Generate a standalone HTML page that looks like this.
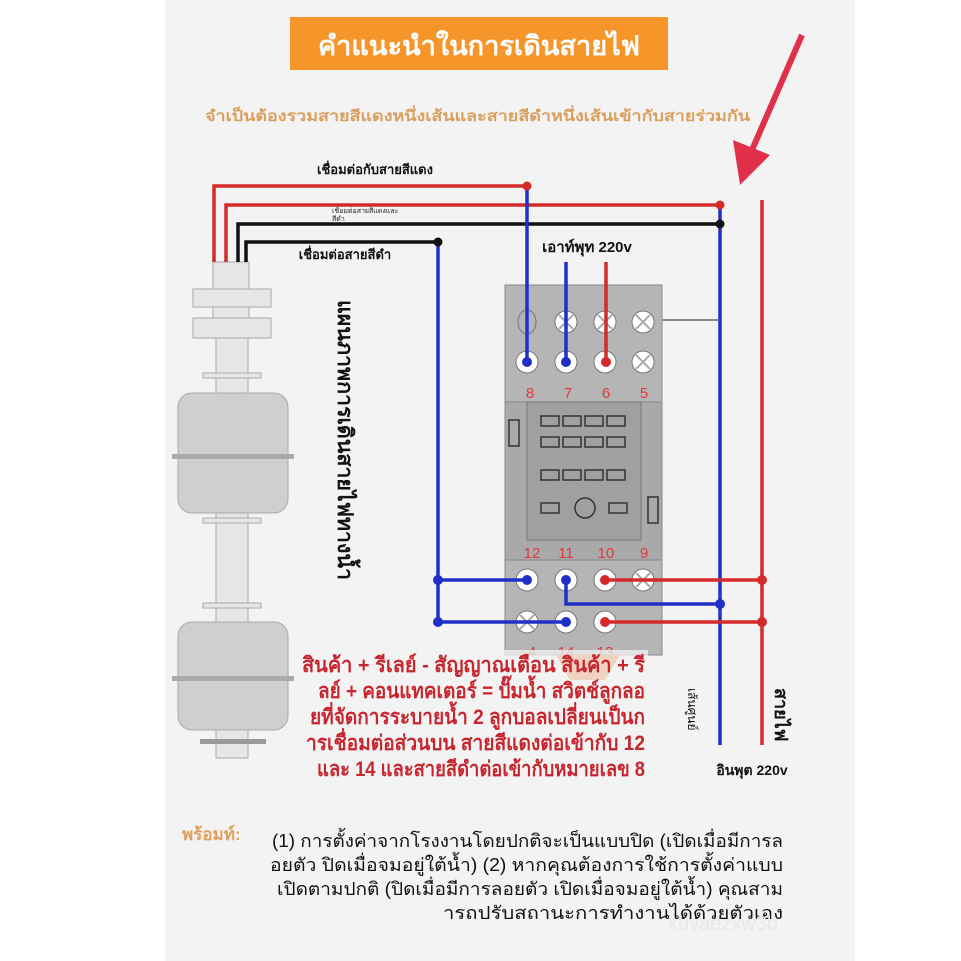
<!DOCTYPE html>
<html><head><meta charset="utf-8"><style>
html,body{margin:0;padding:0;background:#fff}
svg{display:block}
text{font-family:"Liberation Sans","DejaVu Sans",sans-serif}
</style></head><body>
<svg width="961" height="961" viewBox="0 0 961 961" xmlns="http://www.w3.org/2000/svg">
<rect x="0" y="0" width="961" height="961" fill="#ffffff"/>
<rect x="165" y="0" width="690" height="961" fill="#f3f3f3"/>
<!-- header -->
<rect x="290" y="17" width="378" height="53" fill="#f5952a"/>
<text x="318" y="55" font-size="27" fill="#fff" font-weight="bold" textLength="322" lengthAdjust="spacingAndGlyphs">คำแนะนำในการเดินสายไฟ</text>
<text x="205" y="121" font-size="15" fill="#d9a060" font-weight="bold" textLength="545" lengthAdjust="spacingAndGlyphs">จำเป็นต้องรวมสายสีแดงหนึ่งเส้นและสายสีดำหนึ่งเส้นเข้ากับสายร่วมกัน</text>
<!-- arrow -->
<line x1="802" y1="35" x2="752" y2="150" stroke="#e0304a" stroke-width="6"/>
<polygon points="733,140 770,155 740,185" fill="#e0304a"/>
<!-- wire labels -->
<text x="375" y="174" font-size="13" fill="#111" font-weight="bold" text-anchor="middle">เชื่อมต่อกับสายสีแดง</text>
<text x="332" y="213" font-size="7" fill="#222">เชื่อมต่อสายสีแดงและ</text>
<text x="332" y="221" font-size="7" fill="#222">สีดำ</text>
<text x="345" y="259" font-size="13" fill="#111" font-weight="bold" text-anchor="middle">เชื่อมต่อสายสีดำ</text>
<text x="587" y="252" font-size="15" fill="#111" font-weight="bold" text-anchor="middle">เอาท์พุท 220v</text>
<!-- float switch -->
<g fill="#e6e6e6" stroke="#aaa" stroke-width="1">
<rect x="213" y="262" width="36" height="30"/>
<rect x="193" y="289" width="78" height="18"/>
<rect x="213" y="307" width="36" height="14"/>
<rect x="193" y="318" width="78" height="20"/>
<rect x="216" y="338" width="32" height="55"/>
<rect x="203" y="373" width="58" height="5"/>
<rect x="178" y="393" width="110" height="120" rx="14" fill="#cfcfcf"/>
<rect x="216" y="513" width="32" height="110"/>
<rect x="203" y="518" width="58" height="5"/>
<rect x="203" y="603" width="58" height="5"/>
<rect x="178" y="622" width="110" height="108" rx="14" fill="#cfcfcf"/>
<rect x="216" y="730" width="32" height="28"/>
</g>
<rect x="172" y="454" width="122" height="5" fill="#aaa"/>
<rect x="172" y="676" width="122" height="5" fill="#aaa"/>
<rect x="200" y="739" width="66" height="5" fill="#999"/>
<!-- vertical title -->
<text transform="translate(338,300) rotate(90)" font-size="21" fill="#111" font-weight="bold" textLength="280" lengthAdjust="spacingAndGlyphs">แผนภาพการเดินสายไฟทางน้ำ</text>
<!-- relay base -->
<g>
<rect x="505" y="285" width="157" height="370" fill="#a9a9a9" stroke="#888"/>
<rect x="505" y="285" width="157" height="117" fill="#b5b5b5" stroke="#888"/>
<rect x="527" y="402" width="114" height="138" fill="#a0a0a0" stroke="#777"/>
<rect x="505" y="560" width="157" height="95" fill="#b5b5b5" stroke="#888"/>
<g fill="none" stroke="#333" stroke-width="1.5">
<rect x="541" y="416" width="18" height="10"/><rect x="563" y="416" width="18" height="10"/><rect x="585" y="416" width="18" height="10"/><rect x="607" y="416" width="18" height="10"/>
<rect x="541" y="437" width="18" height="10"/><rect x="563" y="437" width="18" height="10"/><rect x="585" y="437" width="18" height="10"/><rect x="607" y="437" width="18" height="10"/>
<rect x="541" y="470" width="18" height="10"/><rect x="563" y="470" width="18" height="10"/><rect x="585" y="470" width="18" height="10"/><rect x="607" y="470" width="18" height="10"/>
<rect x="541" y="503" width="18" height="10"/><circle cx="585" cy="508" r="10"/><rect x="609" y="503" width="18" height="10"/>
<rect x="509" y="420" width="10" height="26"/><rect x="648" y="497" width="10" height="26"/>
</g>
<g fill="#fff" stroke="#777" stroke-width="1">
<circle cx="566" cy="322" r="11"/><circle cx="605" cy="322" r="11"/><circle cx="643" cy="322" r="11"/>
<ellipse cx="527" cy="322" rx="9" ry="12" fill="none"/>
<circle cx="527" cy="362" r="11"/><circle cx="566" cy="362" r="11"/><circle cx="605" cy="362" r="11"/><circle cx="643" cy="362" r="11"/>
<circle cx="527" cy="580" r="11"/><circle cx="566" cy="580" r="11"/><circle cx="605" cy="580" r="11"/><circle cx="643" cy="580" r="11"/>
<circle cx="527" cy="622" r="11"/><circle cx="566" cy="622" r="11"/><circle cx="605" cy="622" r="11"/>
</g>
<g stroke="#aaa" stroke-width="2">
<path d="M559,315 L573,329 M573,315 L559,329 M598,315 L612,329 M612,315 L598,329 M636,315 L650,329 M650,315 L636,329"/>
<path d="M636,355 L650,369 M650,355 L636,369 M636,573 L650,587 M650,573 L636,587 M520,615 L534,629 M534,615 L520,629"/>
</g>
<g fill="#e0383e" font-size="15" text-anchor="middle">
<text x="530" y="398">8</text><text x="568" y="398">7</text><text x="606" y="398">6</text><text x="644" y="398">5</text>
<text x="532" y="558">12</text><text x="566" y="558">11</text><text x="606" y="558">10</text><text x="644" y="558">9</text>
<text x="532" y="657">4</text><text x="566" y="657">14</text><text x="605" y="657">13</text>
</g>
<line x1="662" y1="320" x2="718" y2="320" stroke="#888" stroke-width="2"/>
<path d="M556,655 L620,655 L605,680 L570,680 Z" fill="#e8702a"/>
</g>
<!-- wires -->
<g fill="none" stroke-width="3.5">
<path d="M214,262 V186 H527" stroke="#d42a2a"/>
<path d="M226,262 V205 H720" stroke="#d42a2a"/>
<path d="M238,262 V224 H720" stroke="#111"/>
<path d="M246,262 V242 H438" stroke="#111"/>
<path d="M527,186 V362" stroke="#1f2fc8"/>
<path d="M720,205 V745" stroke="#1f2fc8"/>
<path d="M438,242 V622 H566" stroke="#1f2fc8"/>
<path d="M438,580 H527" stroke="#1f2fc8"/>
<path d="M566,580 V604 H720" stroke="#1f2fc8"/>
<path d="M566,262 V362" stroke="#1f2fc8"/>
<path d="M606,262 V362" stroke="#d42a2a"/>
<path d="M762,200 V745" stroke="#d42a2a"/>
<path d="M605,580 H762" stroke="#d42a2a"/>
<path d="M605,622 H762" stroke="#d42a2a"/>
</g>
<g fill="#d42a2a"><circle cx="527" cy="186" r="4.5"/><circle cx="720" cy="205" r="4.5"/><circle cx="606" cy="362" r="5"/><circle cx="605" cy="580" r="5"/><circle cx="762" cy="580" r="5"/><circle cx="605" cy="622" r="5"/><circle cx="762" cy="622" r="5"/></g>
<g fill="#111"><circle cx="720" cy="224" r="4.5"/><circle cx="438" cy="242" r="4.5"/></g>
<g fill="#1f2fc8"><circle cx="527" cy="362" r="5"/><circle cx="566" cy="362" r="5"/><circle cx="438" cy="580" r="5"/><circle cx="527" cy="580" r="5"/><circle cx="566" cy="580" r="5"/><circle cx="720" cy="604" r="5"/><circle cx="438" cy="622" r="5"/><circle cx="566" cy="622" r="5"/></g>
<!-- red text block -->
<rect x="298" y="650" width="350" height="128" fill="#f3f3f3" opacity="0.75"/>
<g fill="#c8262e" font-size="21" font-weight="bold" lengthAdjust="spacingAndGlyphs">
<text x="302" y="672" textLength="343" lengthAdjust="spacingAndGlyphs">สินค้า + รีเลย์ - สัญญาณเตือน สินค้า + รี</text>
<text x="318" y="698" textLength="327" lengthAdjust="spacingAndGlyphs">ลย์ + คอนแทคเตอร์ = ปั๊มน้ำ สวิตช์ลูกลอ</text>
<text x="310" y="724" textLength="335" lengthAdjust="spacingAndGlyphs">ยที่จัดการระบายน้ำ 2 ลูกบอลเปลี่ยนเป็นก</text>
<text x="306" y="750" textLength="339" lengthAdjust="spacingAndGlyphs">ารเชื่อมต่อส่วนบน สายสีแดงต่อเข้ากับ 12</text>
<text x="317" y="776" textLength="328" lengthAdjust="spacingAndGlyphs">และ 14 และสายสีดำต่อเข้ากับหมายเลข 8</text>
</g>
<text transform="translate(688,688) rotate(90)" font-size="12" fill="#111">เส้นศูนย์</text>
<text transform="translate(775,688) rotate(90)" font-size="18" font-weight="bold" fill="#111">สายไฟ</text>
<text x="752" y="775" font-size="14" fill="#111" font-weight="bold" text-anchor="middle">อินพุต 220v</text>
<!-- bottom -->
<text x="182" y="840" font-size="17" fill="#e0a060" font-weight="bold">พร้อมท์:</text>
<g fill="#111" font-size="18">
<text x="272" y="847" textLength="511" lengthAdjust="spacingAndGlyphs">(1) การตั้งค่าจากโรงงานโดยปกติจะเป็นแบบปิด (เปิดเมื่อมีการล</text>
<text x="270" y="871" textLength="513" lengthAdjust="spacingAndGlyphs">อยตัว ปิดเมื่อจมอยู่ใต้น้ำ)   (2) หากคุณต้องการใช้การตั้งค่าแบบ</text>
<text x="277" y="895" textLength="506" lengthAdjust="spacingAndGlyphs">เปิดตามปกติ (ปิดเมื่อมีการลอยตัว เปิดเมื่อจมอยู่ใต้น้ำ) คุณสาม</text>
<text x="443" y="919" textLength="340" lengthAdjust="spacingAndGlyphs">ารถปรับสถานะการทำงานได้ด้วยตัวเอง</text>
</g>
<text x="668" y="930" font-size="20" fill="#e8e8e8">kuvaezxw3b</text>
</svg>
</body></html>
